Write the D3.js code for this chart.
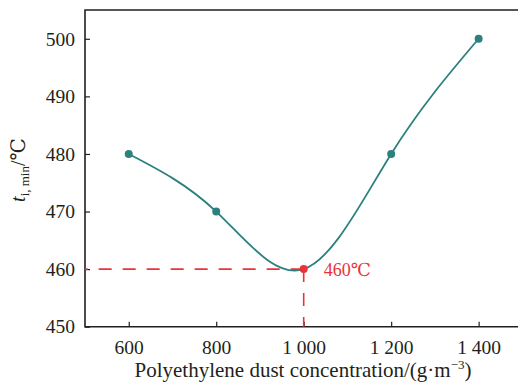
<!DOCTYPE html>
<html>
<head>
<meta charset="utf-8">
<script src="https://cdn.jsdelivr.net/npm/d3@7"></script>
<style>
  html, body { margin: 0; padding: 0; background: #fff; }
  svg { display: block; }
</style>
</head>
<body>
<script>
// Polyethylene dust concentration (g·m⁻³) and minimum ignition temperature (℃)
const concentrations = [600, 800, 1000, 1200, 1400];
const ignitionTemps = [480, 470, 460, 480, 500];
const xTickValues = [600, 800, 1000, 1200, 1400];
const xTickLabels = ["600", "800", "1 000", "1 200", "1 400"];
const yTickValues = [450, 460, 470, 480, 490, 500];
const minimumPoint = { x: 1000, y: 460, label: "460℃" };

const W = 518, H = 385;
const serif = '"Liberation Serif", "Times New Roman", Tinos, "DejaVu Serif", serif';

const svg = d3.select("body").append("svg").attr("width", W).attr("height", H)
  .style("font-family", serif);

const x = d3.scaleLinear().domain([500, 1490]).range([85, 518]);
const y = d3.scaleLinear().domain([450, 505]).range([326.7, 10]);

const teal = "#2a817d";
const red = "#ea3338";
const axisColor = "#231f20";

// frame (right edge runs past the page)
svg.append("path")
  .attr("d", `M${W + 10},${y(505)}H${x(500)}V${y(450)}H${W + 10}`)
  .attr("fill", "none").attr("stroke", axisColor).attr("stroke-width", 1.6);

// inward ticks
const xAxis = d3.axisBottom(x).tickValues(xTickValues)
  .tickSizeInner(-5).tickSizeOuter(0)
  .tickFormat((d, i) => xTickLabels[i]).tickPadding(13);
const gx = svg.append("g").attr("transform", `translate(0,${y(450)})`).call(xAxis)
  .attr("font-family", null);
gx.select(".domain").remove();
gx.selectAll(".tick line").attr("stroke", axisColor).attr("stroke-width", 1.2);
gx.selectAll(".tick text").style("font-size", "19.5px").style("fill", axisColor)
  .style("font-family", serif);

const yAxis = d3.axisLeft(y).tickValues(yTickValues)
  .tickSizeInner(-5).tickSizeOuter(0).tickPadding(10);
const gy = svg.append("g").attr("transform", `translate(${x(500)},0)`).call(yAxis)
  .attr("font-family", null);
gy.select(".domain").remove();
gy.selectAll(".tick line").attr("stroke", axisColor).attr("stroke-width", 1.2);
gy.selectAll(".tick text").style("font-size", "19.5px").style("fill", axisColor)
  .style("font-family", serif);

// dashed guides to the minimum, dashed outward from the point
svg.append("line")
  .attr("x1", x(minimumPoint.x)).attr("x2", x(500))
  .attr("y1", y(minimumPoint.y)).attr("y2", y(minimumPoint.y))
  .attr("stroke", red).attr("stroke-width", 1.6).attr("stroke-dasharray", "13,11");
svg.append("line")
  .attr("x1", x(minimumPoint.x)).attr("x2", x(minimumPoint.x))
  .attr("y1", y(minimumPoint.y)).attr("y2", y(450))
  .attr("stroke", red).attr("stroke-width", 1.6).attr("stroke-dasharray", "13,11");

// smooth curve
const data = concentrations.map((c, i) => ({ x: c, y: ignitionTemps[i] }));
const line = d3.line().x(d => x(d.x)).y(d => y(d.y)).curve(d3.curveNatural);
svg.append("path").datum(data).attr("d", line)
  .attr("fill", "none").attr("stroke", teal).attr("stroke-width", 1.8);

svg.selectAll("circle.pt").data(data.filter(d => d.x !== minimumPoint.x)).enter()
  .append("circle").attr("class", "pt")
  .attr("cx", d => x(d.x)).attr("cy", d => y(d.y)).attr("r", 4)
  .attr("fill", teal);

svg.append("circle")
  .attr("cx", x(minimumPoint.x)).attr("cy", y(minimumPoint.y)).attr("r", 4)
  .attr("fill", red);

svg.append("text")
  .attr("x", x(minimumPoint.x) + 20).attr("y", y(minimumPoint.y) + 7)
  .style("font-size", "18px").style("fill", red).style("font-family", serif)
  .text(minimumPoint.label);

// axis titles
svg.append("text")
  .attr("x", 303).attr("y", 377)
  .attr("text-anchor", "middle")
  .style("font-size", "21px").style("fill", axisColor).style("font-family", serif)
  .html('Polyethylene dust concentration/(g·m<tspan dy="-8" style="font-size:13px">−3</tspan><tspan dy="8">)</tspan>');

const yt = svg.append("text")
  .attr("transform", `translate(25,170) rotate(-90)`)
  .attr("text-anchor", "middle")
  .style("font-size", "20px").style("fill", axisColor).style("font-family", serif);
yt.append("tspan").style("font-style", "italic").text("t");
yt.append("tspan").style("font-size", "13px").attr("dy", 4).text("i, min");
yt.append("tspan").attr("dy", -4).text("/℃");
</script>
</body>
</html>
